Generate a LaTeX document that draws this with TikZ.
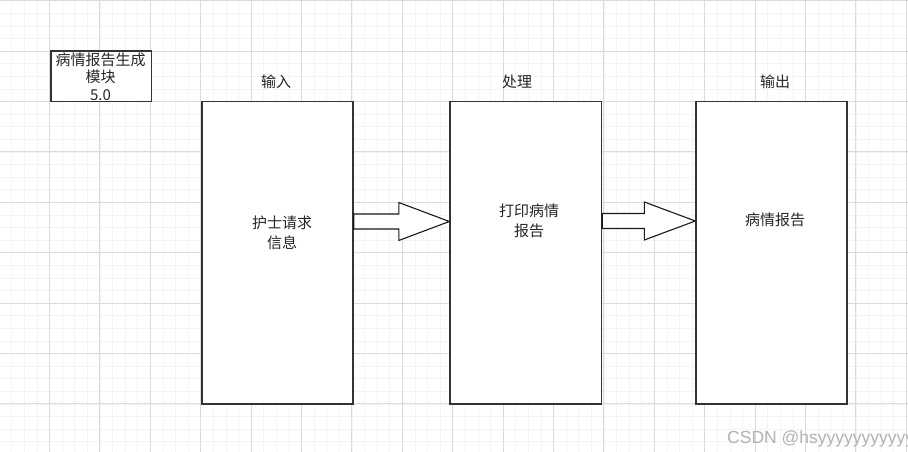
\documentclass[tikz,border=0pt]{standalone}
\usepackage{fontspec}
\setmainfont{Noto Sans CJK SC}
\newfontfamily\wmfont{Liberation Sans}
\usetikzlibrary{calc}
\begin{document}
\begin{tikzpicture}[x=1bp,y=-1bp,
  gridminor/.style={draw=black!4.5, line width=0.8bp},
  gridmajor/.style={draw=black!14, line width=1bp},
  panel/.style={draw=black!80, line width=1.4bp, fill=white, inner sep=0},
  txt/.style={font=\fontsize{15bp}{20bp}\selectfont, text=black!85, align=center, inner sep=0},
  bigarrow/.style={draw=black!90, line width=1.1bp, fill=white, line join=miter}]

% page and background grid
\useasboundingbox (0,0) rectangle (908,452);
\begin{scope}
  \clip (0,0) rectangle (908,452);
  \fill[white] (0,0) rectangle (908,452);
  \foreach \i in {-4,...,68} \draw[gridminor] ({49.5+12.6*\i},0) -- ++(0,452);
  \foreach \j in {0,...,36} \draw[gridminor] (0,{0.8+12.6*\j}) -- ++(908,0);
  \foreach \i in {-1,...,17} \draw[gridmajor] ({49.5+50.4*\i},0) -- ++(0,452);
  \foreach \j in {0,...,9} \draw[gridmajor] (0,{0.8+50.4*\j}) -- ++(908,0);
\end{scope}

% module title box
\node[panel, minimum width=100.5bp, minimum height=50.5bp] (mod) at (101.25,76.25) {};
\node[txt, font=\fontsize{15bp}{17.5bp}\selectfont] (modtxt) at (100.5,76.5) {病情报告生成\\模块\\5.0};

% input / process / output columns
\node[panel, minimum width=151bp, minimum height=302.5bp] (b1) at (277.5,252.75) {};
\node[panel, minimum width=151.5bp, minimum height=302.5bp] (b2) at (525.75,252.75) {};
\node[panel, minimum width=151bp, minimum height=302.5bp] (b3) at (771.5,252.75) {};

\node[txt] (l1) at (276,82) {输入};
\node[txt] (l2) at (517,82) {处理};
\node[txt] (l3) at (775,82) {输出};

\node[txt] (t1txt) at (282,233) {护士请求\\信息};
\node[txt] (t2txt) at (529,220.5) {打印病情\\报告};
\node[txt] (t3txt) at (775,220) {病情报告};

% block arrows between the columns
\coordinate (s1) at ([yshift=31.25bp]b1.east);
\coordinate (t1) at (b2.west |- s1);
\draw[bigarrow] (t1) -- ++(-50.5,-19) -- ++(0,11.5) -- ($(s1)+(0,-7.5)$)
  -- ($(s1)+(0,7.5)$) -- ($(t1)+(-50.5,7.5)$) -- ++(0,11.5) -- cycle;

\coordinate (s2) at ([yshift=31.75bp]b2.east);
\coordinate (t2) at (b3.west |- s2);
\draw[bigarrow] (t2) -- ++(-51,-19) -- ++(0,11.5) -- ($(s2)+(0,-7.5)$)
  -- ($(s2)+(0,7.5)$) -- ($(t2)+(-51,7.5)$) -- ++(0,11.5) -- cycle;

% watermark, running off the right edge
\node[anchor=base west, text=black!30, font=\wmfont\fontsize{17.5bp}{20bp}\selectfont, inner sep=0] (wm) at (727,443) {CSDN @hsyyyyyyyyyyy};
\end{tikzpicture}
\end{document}
